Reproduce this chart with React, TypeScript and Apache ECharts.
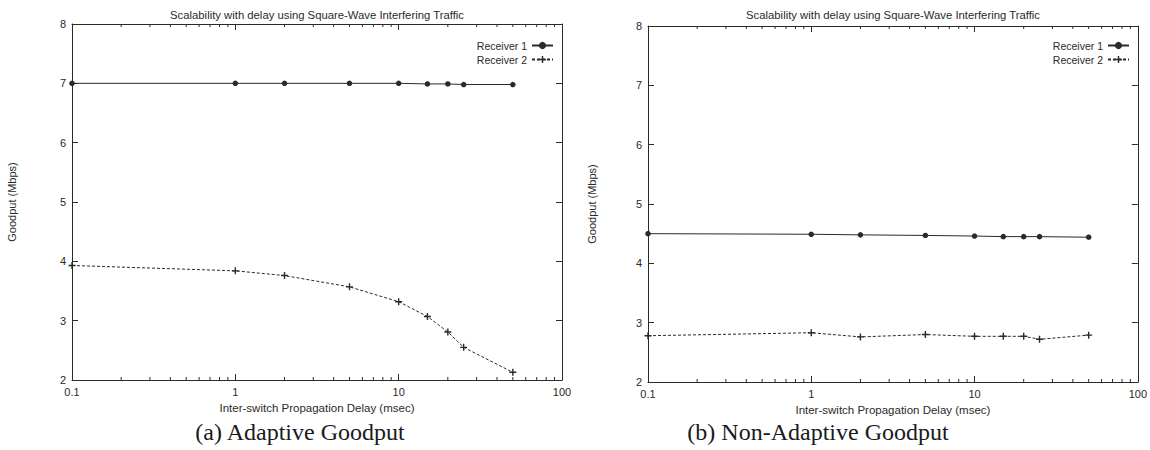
import React, { useEffect, useRef } from "react";
import * as echarts from "echarts";

const delays = [0.1, 1, 2, 5, 10, 15, 20, 25, 50];
const adaptiveR1 = [7.0, 7.0, 7.0, 7.0, 7.0, 6.99, 6.99, 6.98, 6.98];
const adaptiveR2 = [3.93, 3.84, 3.76, 3.57, 3.32, 3.07, 2.81, 2.55, 2.13];
const nonAdaptiveR1 = [4.5, 4.49, 4.48, 4.47, 4.46, 4.45, 4.45, 4.45, 4.44];
const nonAdaptiveR2 = [2.78, 2.83, 2.76, 2.8, 2.77, 2.77, 2.77, 2.72, 2.79];
const minorTickValues = [
  0.2, 0.3, 0.4, 0.5, 0.6, 0.7, 0.8, 0.9,
  2, 3, 4, 5, 6, 7, 8, 9,
  20, 30, 40, 50, 60, 70, 80, 90,
];
const seriesNames = ["Receiver 1", "Receiver 2"];
const chartTitle = "Scalability with delay using Square-Wave Interfering Traffic";
const xAxisTitle = "Inter-switch Propagation Delay (msec)";
const yAxisTitle = "Goodput (Mbps)";
const captions = ["(a) Adaptive Goodput", "(b) Non-Adaptive Goodput"];

const INK = "#2a2a2a";
const SANS = "'Liberation Sans', Arial, Helvetica, sans-serif";
const SERIF = "'Liberation Serif', 'Times New Roman', serif";
const PLUS = "path://M4,0h2v4h4v2h-4v4h-2v-4h-4v-2h4z";

const grids = [
  { left: 72, top: 24, width: 490, height: 356 },
  { left: 648, top: 26, width: 490, height: 356 },
];
const captionCenters = [300, 818];
const yNameGaps = [55, 51];

export default function App() {
  const ref = useRef<HTMLDivElement>(null);
  useEffect(() => {
    if (!ref.current) return;
    const chart = echarts.init(ref.current, undefined, { renderer: "svg" });
    const xAxes: any[] = [];
    const yAxes: any[] = [];
    const series: any[] = [];
    const legends: any[] = [];
    const graphics: any[] = [];
    const datasets = [
      [adaptiveR1, adaptiveR2],
      [nonAdaptiveR1, nonAdaptiveR2],
    ];
    grids.forEach((g, i) => {
      const baseX = {
        type: "log",
        logBase: 10,
        min: 0.1,
        max: 100,
        gridIndex: i,
        splitLine: { show: false },
        axisLine: { show: true, lineStyle: { color: INK, width: 1 } },
        axisTick: { show: true, inside: true, length: 6, lineStyle: { color: INK } },
      };
      xAxes.push({
        ...baseX,
        position: "bottom",
        name: xAxisTitle,
        nameLocation: "middle",
        nameGap: 18,
        nameTextStyle: { fontFamily: SANS, fontSize: 11.5, color: INK },
        axisLabel: {
          fontFamily: SANS,
          fontSize: 11,
          color: INK,
          margin: 6,
          formatter: (v: number) => String(+Number(v).toPrecision(3)),
        },
      });
      xAxes.push({ ...baseX, position: "top", axisLabel: { show: false } });
      const baseY = {
        type: "value",
        min: 2,
        max: 8,
        interval: 1,
        gridIndex: i,
        splitLine: { show: false },
        axisLine: { show: true, lineStyle: { color: INK, width: 1 } },
        axisTick: { show: true, inside: true, length: 6, lineStyle: { color: INK } },
      };
      yAxes.push({
        ...baseY,
        position: "left",
        name: yAxisTitle,
        nameLocation: "middle",
        nameGap: yNameGaps[i],
        nameTextStyle: { fontFamily: SANS, fontSize: 11, color: INK },
        axisLabel: { fontFamily: SANS, fontSize: 11, color: INK, margin: 6 },
      });
      yAxes.push({ ...baseY, position: "right", axisLabel: { show: false } });
      const xi = i * 2;
      const yi = i * 2;
      const [r1, r2] = datasets[i];
      series.push({
        type: "line",
        name: seriesNames[0],
        xAxisIndex: xi,
        yAxisIndex: yi,
        data: delays.map((d, k) => [d, r1[k]]),
        symbol: "circle",
        symbolSize: 5.5,
        showSymbol: true,
        itemStyle: { color: INK },
        lineStyle: { color: INK, width: 1, type: "solid" },
        silent: true,
      });
      series.push({
        type: "line",
        name: seriesNames[1],
        xAxisIndex: xi,
        yAxisIndex: yi,
        data: delays.map((d, k) => [d, r2[k]]),
        symbol: PLUS,
        symbolSize: 7,
        showSymbol: true,
        itemStyle: { color: INK },
        lineStyle: { color: INK, width: 1, type: [3, 2] },
        silent: true,
      });
      series.push({
        type: "custom",
        name: "minor" + i,
        xAxisIndex: xi,
        yAxisIndex: yi,
        silent: true,
        data: minorTickValues.map((v) => [v, 2]),
        encode: { x: 0, y: 1 },
        renderItem: (_p: any, api: any) => {
          const x = api.value(0);
          const b = api.coord([x, 2]);
          const t = api.coord([x, 8]);
          return {
            type: "group",
            children: [
              { type: "line", shape: { x1: b[0], y1: b[1], x2: b[0], y2: b[1] - 3 }, style: { stroke: INK, lineWidth: 1 } },
              { type: "line", shape: { x1: t[0], y1: t[1], x2: t[0], y2: t[1] + 3 }, style: { stroke: INK, lineWidth: 1 } },
            ],
          };
        },
      });
      legends.push({
        data: seriesNames,
        orient: "vertical",
        align: "right",
        padding: 0,
        right: 1150 - (g.left + g.width) + 8,
        top: 40,
        itemWidth: 21,
        itemHeight: 9,
        itemGap: 3,
        selectedMode: false,
        textStyle: { fontFamily: SANS, fontSize: 10.5, color: INK, padding: [0, 0, 0, 0] },
      });
      const cx = g.left + g.width / 2;
      graphics.push({
        type: "text",
        x: cx,
        y: 15,
        style: { text: chartTitle, align: "center", verticalAlign: "middle", font: `11.3px ${SANS}`, fill: INK },
      });
      graphics.push({
        type: "text",
        x: captionCenters[i],
        y: 432,
        style: { text: captions[i], align: "center", verticalAlign: "middle", font: `24px ${SERIF}`, fill: "#1a1a1a" },
      });
    });

    chart.setOption({
      animation: false,
      backgroundColor: "#ffffff",
      grid: grids.map((g) => ({ ...g, containLabel: false })),
      xAxis: xAxes,
      yAxis: yAxes,
      series,
      legend: legends,
      graphic: graphics,
    });
    return () => chart.dispose();
  }, []);
  return (
    <div
      ref={ref}
      style={{ position: "fixed", left: 0, top: 0, width: 1150, height: 450, background: "#fff" }}
    />
  );
}
